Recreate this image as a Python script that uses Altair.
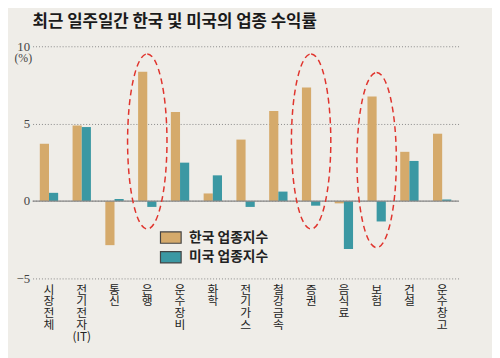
import altair as alt
import pandas as pd

categories = ["시장전체", "전기전자(IT)", "통신", "은행", "운수장비", "화학", "전기가스",
              "철강금속", "증권", "음식료", "보험", "건설", "운수창고"]
korea = [3.7, 4.88, -2.85, 8.36, 5.75, 0.49, 3.97, 5.81, 7.34, -0.15, 6.75, 3.18, 4.35]
usa = [0.53, 4.78, 0.13, -0.38, 2.48, 1.66, -0.38, 0.61, -0.30, -3.10, -1.32, 2.59, 0.10]
series_names = ["한국 업종지수", "미국 업종지수"]
series_colors = ["#d5aa6b", "#3b98a3"]
y_ticks = [-5, 0, 5, 10]

highlight_categories = ["은행", "증권", "보험"]
highlight_centers = [3.85, 3.85, 2.65]

rows = []
for c, k, u in zip(categories, korea, usa):
    rows.append({"category": c, "series": series_names[0], "value": k})
    rows.append({"category": c, "series": series_names[1], "value": u})
df = pd.DataFrame(rows)
hl = pd.DataFrame({"category": highlight_categories, "center": highlight_centers})

KFONT = "Noto Sans CJK KR"

x_enc = alt.X("category:N", sort=categories,
              scale=alt.Scale(paddingInner=0.44, paddingOuter=0.22),
              axis=alt.Axis(title=None, labelAngle=0, domain=False, ticks=False,
                            labelPadding=6, labelBaseline="top", labelFont=KFONT,
                            labelFontSize=12, labelLineHeight=12, labelColor="#222",
                            labelExpr="datum.label == '전기전자(IT)' ? ['전','기','전','자','(IT)'] : split(datum.label, '')"))

y_scale = alt.Scale(domain=[-5, 10], nice=False)

bars = alt.Chart(df).mark_bar().encode(
    x=x_enc,
    xOffset=alt.XOffset("series:N", sort=series_names, scale=alt.Scale(paddingInner=0)),
    y=alt.Y("value:Q", scale=y_scale,
            axis=alt.Axis(values=y_ticks, domain=False, ticks=False, labelPadding=3,
                          labelFont="Liberation Serif", labelFontSize=13, labelColor="#444",
                          grid=True, gridColor="#888", gridDash=[1, 2], gridWidth=1,
                          title="(%)", titleAngle=0, titleX=-10, titleY=12,
                          titleAlign="center", titleBaseline="middle",
                          titleFont="Liberation Serif", titleFontSize=12,
                          titleFontWeight="normal", titleColor="#444")),
    color=alt.Color("series:N", sort=series_names,
                    scale=alt.Scale(domain=series_names, range=series_colors),
                    legend=alt.Legend(title=None, orient="none", legendX=129, legendY=183,
                                      symbolType="M-1,-0.55H1V0.55H-1Z", symbolSize=441,
                                      symbolStrokeColor="#444", symbolStrokeWidth=1.2,
                                      symbolOpacity=1,
                                      labelFont=KFONT, labelFontSize=14, labelFontWeight="bold",
                                      labelColor="#222", labelOffset=7, rowPadding=0)),
)

zero = alt.Chart(pd.DataFrame({"v": [0]})).mark_rule(color="#888", strokeWidth=1.2).encode(
    y=alt.Y("v:Q", scale=y_scale)
)

a = 0.225
k = 0.5523
ellipse_path = (f"M0,-1C{k*a:.4f},-1 {a},-{k} {a},0C{a},{k} {k*a:.4f},1 0,1"
                f"C-{k*a:.4f},1 -{a},{k} -{a},0C-{a},-{k} -{k*a:.4f},-1 0,-1Z")

ellipses = alt.Chart(hl).mark_point(
    shape=ellipse_path, size=31684, filled=False, stroke="#e0342d",
    strokeWidth=1.5, strokeDash=[6, 4], opacity=1
).encode(
    x=alt.X("category:N", sort=categories),
    y=alt.Y("center:Q", scale=y_scale),
)

chart = alt.layer(bars, zero, ellipses).properties(
    width=433, height=236,
    autosize=alt.AutoSizeParams(type="none"),
    padding={"left": 25, "top": 36, "right": 34, "bottom": 78},
    background="#efede8",
    title=alt.TitleParams("최근 일주일간 한국 및 미국의 업종 수익률", anchor="start", frame="group",
                          font=KFONT, fontSize=17, fontWeight="bold", color="#1a1a1a", offset=10),
).configure_view(stroke=None)

chart.save("out.html", embed_options={"renderer": "svg", "actions": False})
